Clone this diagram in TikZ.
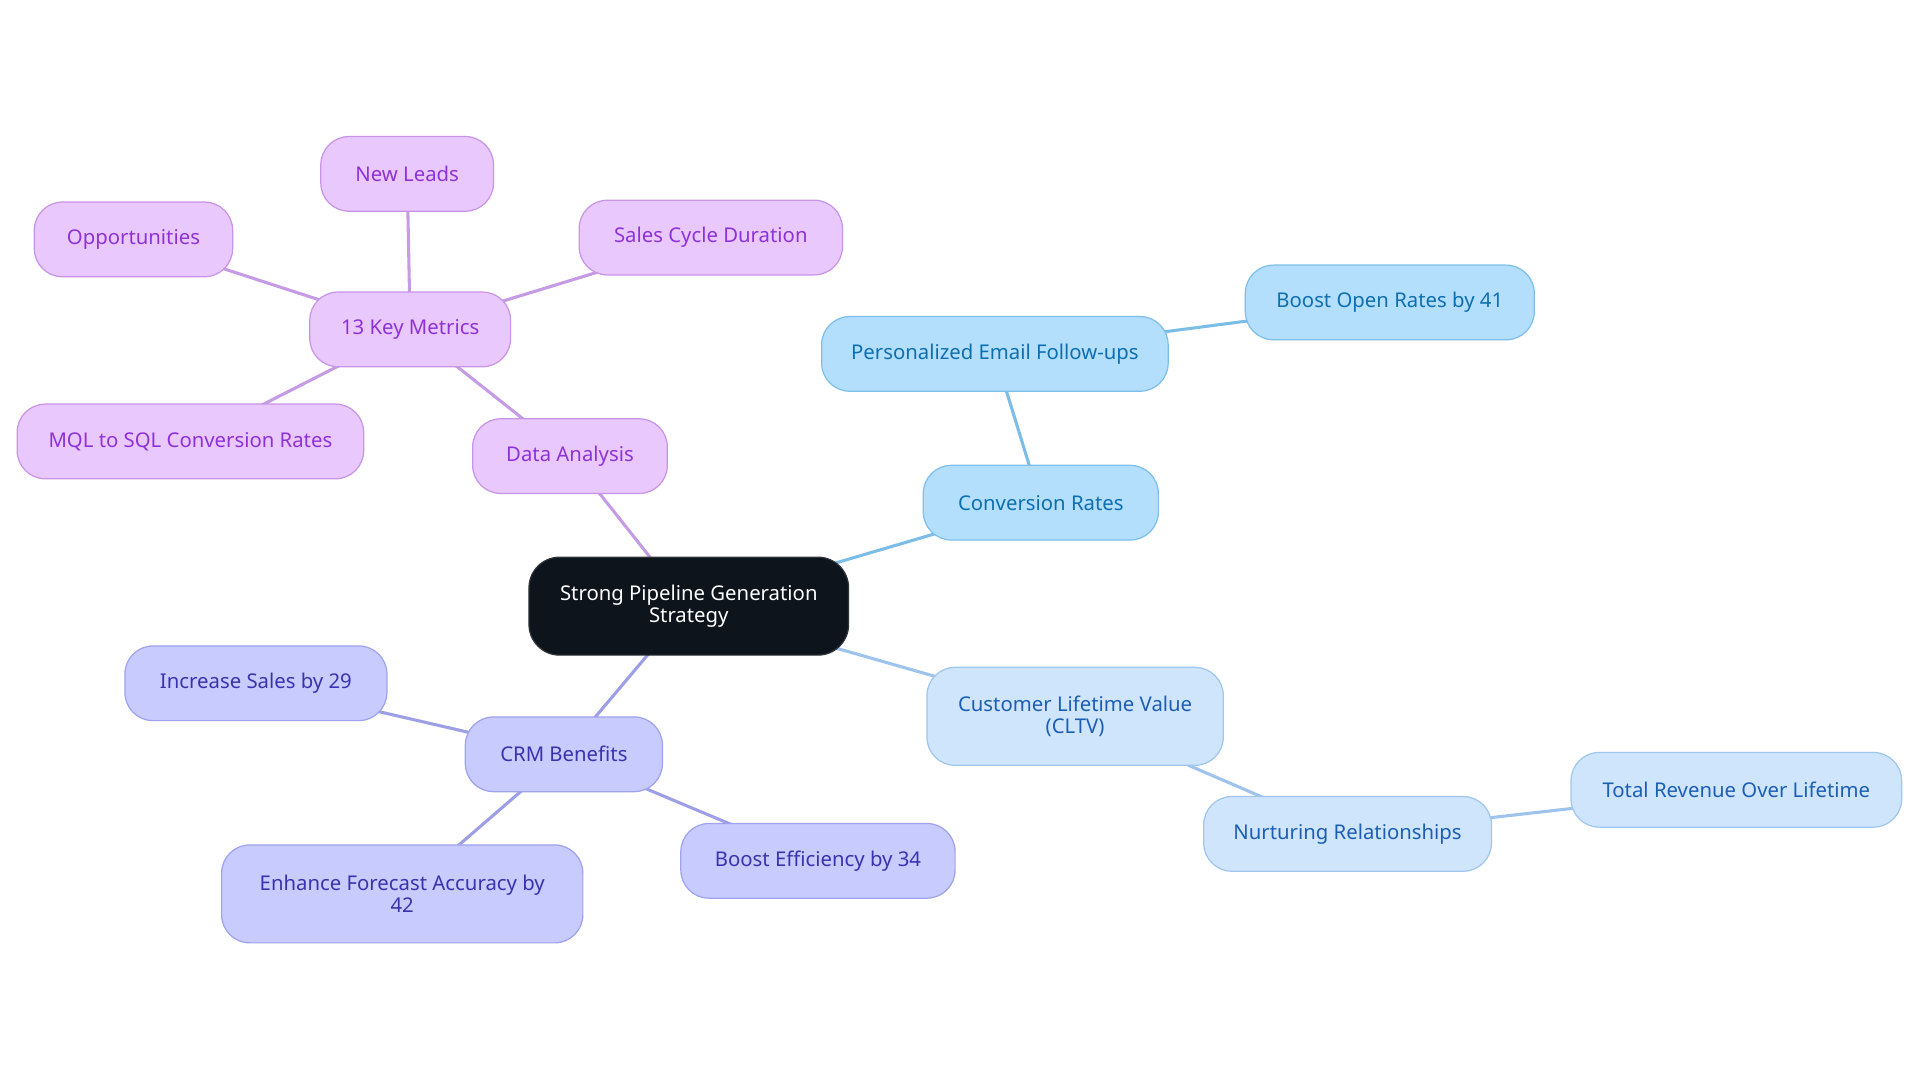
\documentclass[tikz,border=0pt]{standalone}
\usepackage{fontspec}
\setmainfont{Noto Sans}
\usetikzlibrary{backgrounds}
\definecolor{pfill}{HTML}{E9C9FD}
\definecolor{pdraw}{HTML}{C894E8}
\definecolor{ptext}{HTML}{8E32D8}
\definecolor{pedge}{HTML}{C69BE6}
\definecolor{bfill}{HTML}{B3DFFD}
\definecolor{bdraw}{HTML}{7DBFEA}
\definecolor{btext}{HTML}{0E6FB0}
\definecolor{bedge}{HTML}{7CBDE7}
\definecolor{lfill}{HTML}{CFE5FC}
\definecolor{ldraw}{HTML}{A0C6EE}
\definecolor{ltext}{HTML}{1D5EB5}
\definecolor{ledge}{HTML}{9EC3EC}
\definecolor{ifill}{HTML}{C8CBFD}
\definecolor{idraw}{HTML}{9FA2EC}
\definecolor{itext}{HTML}{3A33B0}
\definecolor{iedge}{HTML}{9C9EE6}
\definecolor{rootfill}{HTML}{0D141C}
\tikzset{
  box/.style={rectangle, rounded corners=23pt, line width=1pt, minimum height=61pt,
    inner sep=0pt, align=center, font=\fontsize{16.6}{18.5}\selectfont},
  pnode/.style={box, fill=pfill, draw=pdraw, text=ptext},
  bnode/.style={box, fill=bfill, draw=bdraw, text=btext},
  lnode/.style={box, fill=lfill, draw=ldraw, text=ltext},
  inode/.style={box, fill=ifill, draw=idraw, text=itext},
  rootnode/.style={box, fill=rootfill, draw=rootfill!70!gray, text=white, rounded corners=25pt},
  pline/.style={draw=pedge, line width=2.5pt},
  bline/.style={draw=bedge, line width=2.5pt},
  lline/.style={draw=ledge, line width=2.5pt},
  iline/.style={draw=iedge, line width=2.5pt},
}
\begin{document}
\begin{tikzpicture}[x=1pt,y=1pt]
\useasboundingbox (0,0) rectangle (1568,-884.4);
\node[rootnode, minimum width=261pt, minimum height=80pt] (root) at (562.5,-495) {Strong Pipeline Generation\\Strategy};
% purple branch
\node[pnode, minimum width=159pt] (data) at (465.5,-372.5) {Data Analysis};
\node[pnode, minimum width=164pt] (km) at (335,-269) {13 Key Metrics};
\node[pnode, minimum width=141pt] (leads) at (332.5,-142) {New Leads};
\node[pnode, minimum width=162pt] (opp) at (109,-195.5) {Opportunities};
\node[pnode, minimum width=215pt] (scd) at (580.5,-194) {Sales Cycle Duration};
\node[pnode, minimum width=283pt] (mql) at (155.5,-360.5) {MQL to SQL Conversion Rates};
% blue branch
\node[bnode, minimum width=192pt] (conv) at (850,-410.5) {Conversion Rates};
\node[bnode, minimum width=283pt] (email) at (812.5,-289) {Personalized Email Follow-ups};
\node[bnode, minimum width=236pt] (open) at (1135,-247) {Boost Open Rates by 41};
% light blue branch
\node[lnode, minimum width=242pt, minimum height=80pt] (cltv) at (878,-585) {Customer Lifetime Value\\(CLTV)};
\node[lnode, minimum width=235pt] (nurt) at (1100.5,-681) {Nurturing Relationships};
\node[lnode, minimum width=270pt] (rev) at (1418,-645) {Total Revenue Over Lifetime};
% indigo branch
\node[inode, minimum width=161pt] (crm) at (460.5,-616) {CRM Benefits};
\node[inode, minimum width=214pt] (sales) at (209,-558) {Increase Sales by 29};
\node[inode, minimum width=295pt, minimum height=80pt] (fore) at (328.5,-730) {Enhance Forecast Accuracy by\\42};
\node[inode, minimum width=224pt] (eff) at (668,-703) {Boost Efficiency by 34};
\begin{scope}[on background layer]
\fill[white] (0,0) rectangle (1568,-884.4);
\draw[pline] (root.center) -- (data.center);
\draw[pline] (data.center) -- (km.center);
\draw[pline] (km.center) -- (leads.center);
\draw[pline] (km.center) -- (opp.center);
\draw[pline] (km.center) -- (scd.center);
\draw[pline] (km.center) -- (mql.center);
\draw[bline] (root.center) -- (conv.center);
\draw[bline] (conv.center) -- (email.center);
\draw[bline] (email.center) -- (open.center);
\draw[lline] (root.center) -- (cltv.center);
\draw[lline] (cltv.center) -- (nurt.center);
\draw[lline] (nurt.center) -- (rev.center);
\draw[iline] (root.center) -- (crm.center);
\draw[iline] (crm.center) -- (sales.center);
\draw[iline] (crm.center) -- (fore.center);
\draw[iline] (crm.center) -- (eff.center);
\end{scope}
\end{tikzpicture}
\end{document}
